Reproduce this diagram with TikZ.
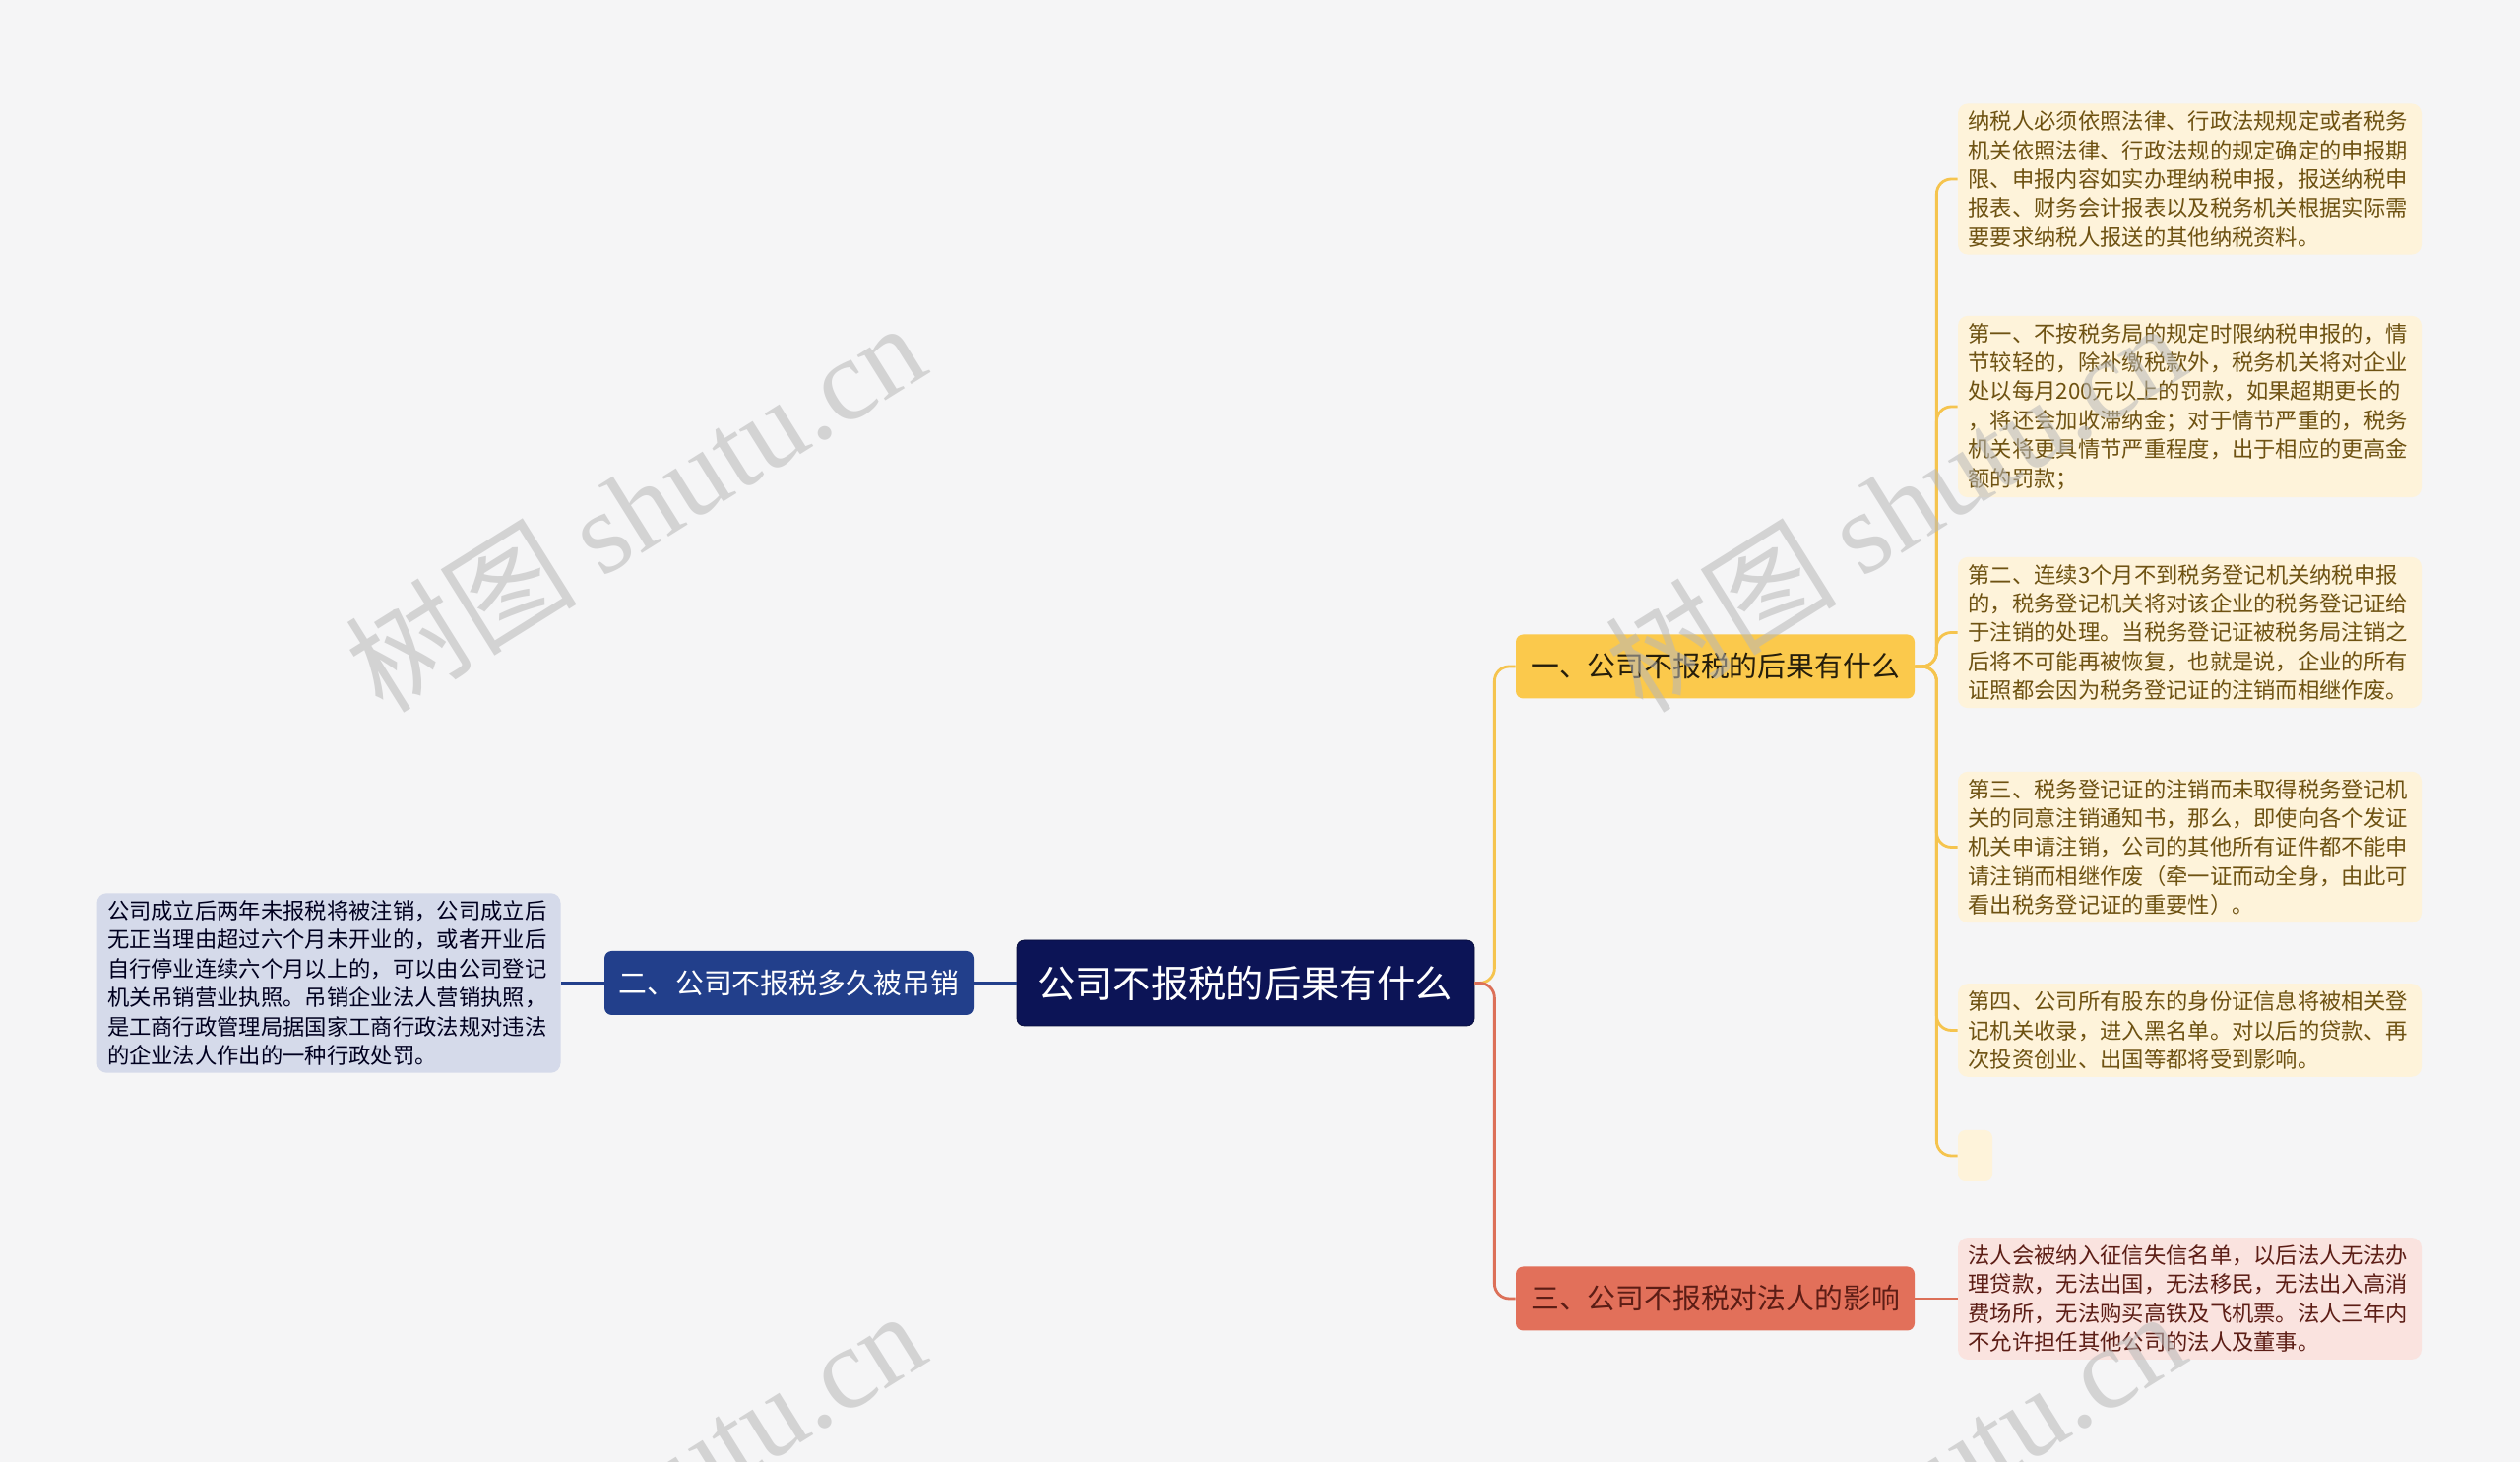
\documentclass[tikz,border=0pt]{standalone}
\usepackage{fontspec}
\setmainfont{Noto Sans CJK SC}
\newfontfamily\wmserif{Liberation Serif}

\definecolor{bgcol}{HTML}{F5F5F6}
\definecolor{rootcol}{HTML}{0C1456}
\definecolor{bluecol}{HTML}{223F8B}
\definecolor{leftleafcol}{HTML}{D5DAEA}
\definecolor{yelcol}{HTML}{FBC94C}
\definecolor{yelleaf}{HTML}{FEF3DA}
\definecolor{yeltext}{HTML}{6E5212}
\definecolor{redcol}{HTML}{E2705A}
\definecolor{redleaf}{HTML}{FAE3DF}
\definecolor{redtext}{HTML}{5C1D15}
\definecolor{yelline}{HTML}{F5C44E}
\definecolor{redline}{HTML}{DC7058}
\definecolor{wmcol}{HTML}{B8B8B8}

\begin{document}
\begin{tikzpicture}[
    topic/.style={rounded corners=0.15cm, minimum height=1.3cm, minimum width=8.1cm, inner sep=0pt, font=\fontsize{16.4}{18}\selectfont},
    leafbox/.style={rounded corners=0.2cm, align=left, text width=9cm, inner xsep=0.21cm, inner ysep=0.15cm, font=\fontsize{12.7}{16.7}\selectfont},
    yelleafbox/.style={leafbox, fill=yelleaf, text=yeltext},
    yellink/.style={draw=yelline, line width=1.6pt, rounded corners=0.3cm},
    redlink/.style={draw=redline, line width=1.6pt, rounded corners=0.3cm},
    bluelink/.style={draw=bluecol, line width=1.6pt},
    watermark/.style={rotate=32, text=wmcol, opacity=0.55, font=\fontsize{67}{70}\selectfont}
  ]
  \useasboundingbox (0,0) rectangle (51.2,29.7);
  \clip (0,0) rectangle (51.2,29.7);
  \fill[bgcol] (0,0) rectangle (51.2,29.7);

  % centre and main branches
  \node[fill=rootcol, draw=rootcol!70!black, rounded corners=0.15cm, minimum width=9.28cm, minimum height=1.74cm, inner sep=0pt, text=white, font=\fontsize{21.8}{24}\selectfont] (root) at (25.3,9.73) {公司不报税的后果有什么};
  \node[topic, fill=yelcol, text=black!85!yelcol] (one) at (34.85,16.16) {一、公司不报税的后果有什么};
  \node[topic, fill=bluecol, minimum width=7.5cm, text=white] (two) at (16.03,9.73) {二、公司不报税多久被吊销};
  \node[topic, fill=redcol, text=redtext] (three) at (34.85,3.32) {三、公司不报税对法人的影响};

  % leaves of the first branch
  \node[yelleafbox] (leafa) at (44.49,26.06) {纳税人必须依照法律、行政法规规定或者税务\\机关依照法律、行政法规的规定确定的申报期\\限、申报内容如实办理纳税申报，报送纳税申\\报表、财务会计报表以及税务机关根据实际需\\要要求纳税人报送的其他纳税资料。};
  \node[yelleafbox] (leafb) at (44.49,21.44) {第一、不按税务局的规定时限纳税申报的，情\\节较轻的，除补缴税款外，税务机关将对企业\\处以每月200元以上的罚款，如果超期更长的\\，将还会加收滞纳金；对于情节严重的，税务\\机关将更具情节严重程度，出于相应的更高金\\额的罚款；};
  \node[yelleafbox] (leafc) at (44.49,16.85) {第二、连续3个月不到税务登记机关纳税申报\\的，税务登记机关将对该企业的税务登记证给\\于注销的处理。当税务登记证被税务局注销之\\后将不可能再被恢复，也就是说，企业的所有\\证照都会因为税务登记证的注销而相继作废。};
  \node[yelleafbox] (leafd) at (44.49,12.49) {第三、税务登记证的注销而未取得税务登记机\\关的同意注销通知书，那么，即使向各个发证\\机关申请注销，公司的其他所有证件都不能申\\请注销而相继作废（牵一证而动全身，由此可\\看出税务登记证的重要性）。};
  \node[yelleafbox] (leafe) at (44.49,8.77) {第四、公司所有股东的身份证信息将被相关登\\记机关收录，进入黑名单。对以后的贷款、再\\次投资创业、出国等都将受到影响。};
  \node[fill=yelleaf, rounded corners=0.15cm, minimum width=0.7cm, minimum height=1.04cm, inner sep=0pt] (leaff) at (40.13,6.22) {};

  % other leaves
  \node[leafbox, fill=leftleafcol, text=black!88!blue] (leftleaf) at (6.68,9.73) {公司成立后两年未报税将被注销，公司成立后\\无正当理由超过六个月未开业的，或者开业后\\自行停业连续六个月以上的，可以由公司登记\\机关吊销营业执照。吊销企业法人营销执照，\\是工商行政管理局据国家工商行政法规对违法\\的企业法人作出的一种行政处罚。};
  \node[leafbox, fill=redleaf, text=redtext] (leafg) at (44.49,3.32) {法人会被纳入征信失信名单，以后法人无法办\\理贷款，无法出国，无法移民，无法出入高消\\费场所，无法购买高铁及飞机票。法人三年内\\不允许担任其他公司的法人及董事。};

  % connectors
  \draw[yellink] (root.east) -- ++(0.42,0) |- (one.west);
  \draw[redlink] (root.east) -- ++(0.42,0) |- (three.west);
  \draw[bluelink] (root.west) -- (two.east);
  \draw[bluelink] (two.west) -- (leftleaf.east);
  \foreach \leaf in {leafa,leafb,leafc,leafd,leafe,leaff}
    \draw[yellink] (one.east) -- ++(0.44,0) |- (\leaf.west);
  \draw[redlink] (three.east) -- (leafg.west);

  % watermarks
  \node[watermark] (wma) at (12.9,19.42) {树图 {\wmserif shutu.cn}};
  \node[watermark] (wmb) at (38.5,19.42) {树图 {\wmserif shutu.cn}};
  \node[watermark] (wmc) at (12.9,-0.66) {树图 {\wmserif shutu.cn}};
  \node[watermark] (wmd) at (38.5,-0.66) {树图 {\wmserif shutu.cn}};
\end{tikzpicture}
\end{document}
